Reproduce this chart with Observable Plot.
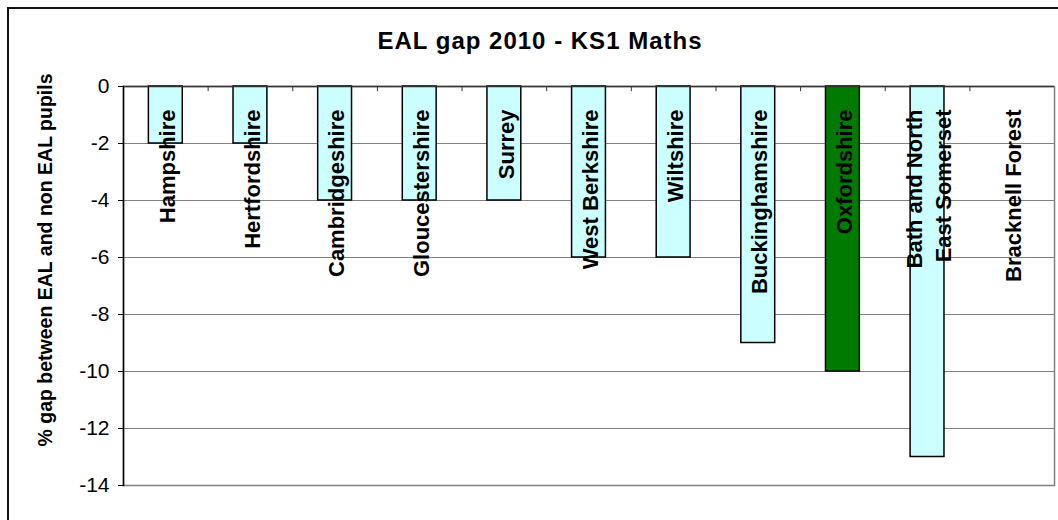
<!DOCTYPE html>
<html>
<head>
<meta charset="utf-8">
<script src="https://cdn.jsdelivr.net/npm/d3@7"></script>
<script src="https://cdn.jsdelivr.net/npm/@observablehq/plot@0.6"></script>
<style>
  html, body { margin: 0; padding: 0; background: #fff; overflow: hidden; width: 1058px; height: 520px; }
  #wrap { position: relative; width: 1058px; height: 520px; font-family: "Liberation Sans", Arial, sans-serif; }
  #chart { position: absolute; left: 0; top: 0; }
  #frame { position: absolute; left: 7px; top: 7px; width: 1200px; height: 800px; border: 2px solid #111; pointer-events: none; }
  #title { position: absolute; left: 0; top: 29px; width: 1080px; text-align: center; font-weight: bold; font-size: 24px; line-height: 24px; letter-spacing: 1px; color: #000; }
  #ylabel { position: absolute; left: 46px; top: 260px; transform: translate(-50%, -50%) rotate(-90deg); white-space: nowrap; font-weight: bold; font-size: 19.5px; line-height: 19.5px; color: #000; }
</style>
</head>
<body>
<div id="wrap">
  <div id="chart"></div>
  <div id="frame"></div>
  <div id="title">EAL gap 2010 - KS1 Maths</div>
  <div id="ylabel">% gap between EAL and non EAL pupils</div>
</div>
<script>
const counties = ["Hampshire", "Hertfordshire", "Cambridgeshire", "Gloucestershire", "Surrey", "West Berkshire", "Wiltshire", "Buckinghamshire", "Oxfordshire", "Bath and North East Somerset", "Bracknell Forest"];
const countyLabels = ["Hampshire", "Hertfordshire", "Cambridgeshire", "Gloucestershire", "Surrey", "West Berkshire", "Wiltshire", "Buckinghamshire", "Oxfordshire", "Bath and North\nEast Somerset", "Bracknell Forest"];
const gaps = [-2, -2, -4, -4, -4, -6, -6, -9, -10, -13, 0];
const highlight = "Oxfordshire";
const yTicks = [0, -2, -4, -6, -8, -10, -12, -14];

const data = counties.map((c, i) => ({county: c, label: countyLabels[i], gap: gaps[i]}));

const W = 1058, H = 520, mL = 123, mR = 4, mT = 86, mB = 35;
const step = (W - mL - mR) / counties.length;
const font = "'Liberation Sans', Arial, sans-serif";

const chart = Plot.plot({
  width: W,
  height: H,
  marginLeft: mL,
  marginRight: mR,
  marginTop: mT,
  marginBottom: mB,
  style: {background: "transparent", color: "#000", fontFamily: font},
  x: {type: "band", domain: counties, paddingInner: 0.6, paddingOuter: 0.3, round: false, axis: null},
  y: {domain: [-14, 0], axis: null},
  marks: [
    Plot.ruleY(yTicks.filter(t => t !== 0), {stroke: "#808080", strokeWidth: 1}),
    Plot.frame({stroke: "#808080", strokeWidth: 1.5}),
    Plot.barY(data.filter(d => d.gap !== 0), {
      x: "county", y1: 0, y2: "gap",
      fill: d => d.county === highlight ? "#007a00" : "#ccffff",
      stroke: "#000", strokeWidth: 1.5
    }),
    Plot.ruleY([0], {stroke: "#333", strokeWidth: 1.5}),
    Plot.ruleX(counties.slice(1), {x: d => d, dx: -step / 2, y1: 0, y2: -0.18, stroke: "#333", strokeWidth: 1}),
    Plot.frame({anchor: "left", stroke: "#000", strokeWidth: 1.5}),
    Plot.axisY({ticks: yTicks, tickSize: 5, tickPadding: 9, fontSize: 21, label: null, stroke: "#000", tickFormat: d => d === 0 ? "0" : "-" + Math.abs(d)}),
    Plot.text(data, {
      x: "county", y: 0, text: "label",
      rotate: -90, textAnchor: "end", lineAnchor: "middle", lineHeight: 1.3,
      dy: 23, fontSize: 22, fontWeight: "bold", fill: "#000", fontFamily: font
    })
  ]
});
document.getElementById("chart").appendChild(chart);
</script>
</body>
</html>
